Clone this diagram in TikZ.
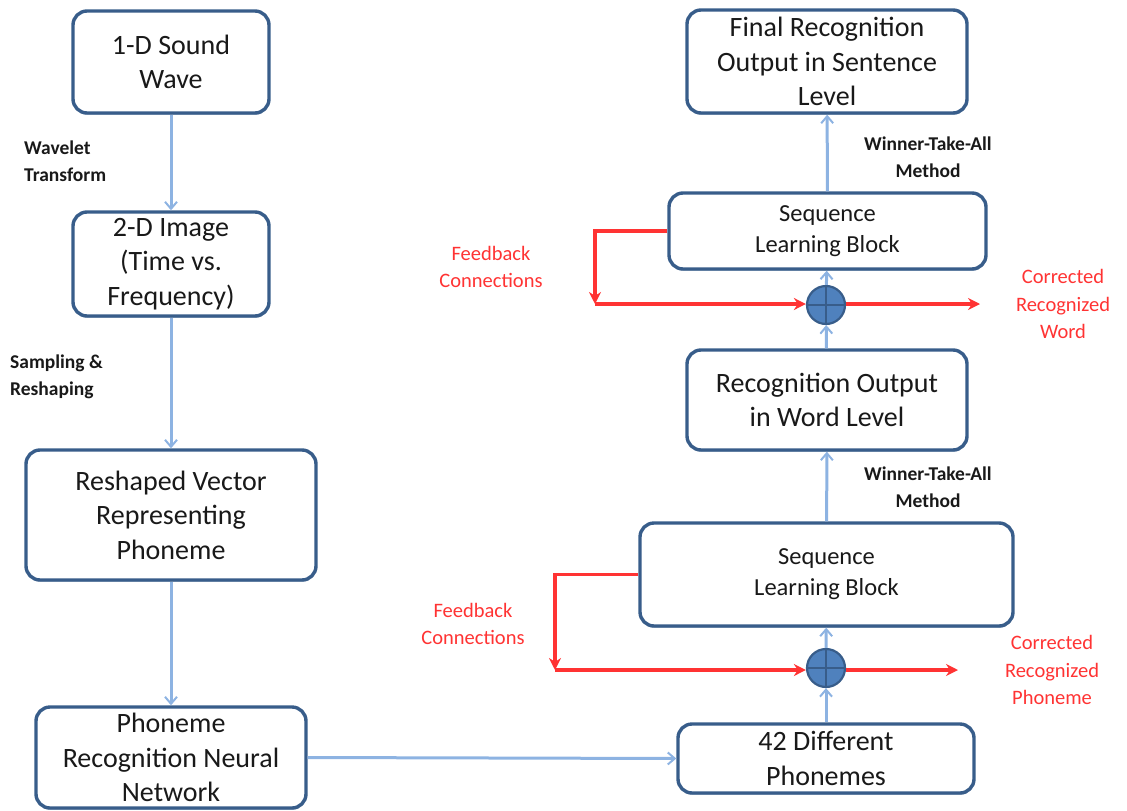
\documentclass[tikz,border=0pt]{standalone}
\usepackage{fontspec}
\setmainfont{Carlito}
\usetikzlibrary{arrows.meta,shadows}
\definecolor{boxline}{RGB}{56,93,138}
\definecolor{flow}{RGB}{141,179,226}
\definecolor{fb}{RGB}{255,51,51}
\definecolor{sumfill}{RGB}{79,129,189}
\definecolor{ink}{RGB}{25,25,25}
\begin{document}
\begin{tikzpicture}[x=1pt,y=-1pt,
  box/.style={draw=boxline, line width=3.4pt, rounded corners=14pt, fill=white,
    align=center, text=ink, inner sep=0pt, font=\fontsize{28}{34.5}\selectfont,
    drop shadow={shadow xshift=0.5pt, shadow yshift=-1.8pt, opacity=0.4, fill=boxline}},
  seqbox/.style={box, font=\fontsize{24.5}{31}\selectfont},
  flowline/.style={draw=flow, line width=3pt, -{Straight Barb[length=7pt,width=12pt,line width=2pt]}},
  fbline/.style={draw=fb, line width=3.4pt},
  fbarrow/.style={fbline, -{Stealth[length=12pt,width=12pt]}},
  note/.style={text=ink, font=\bfseries\fontsize{19.5}{27}\selectfont, inner sep=0pt},
  rednote/.style={text=fb, font=\fontsize{20.5}{27.5}\selectfont, inner sep=0pt, align=center},
  sum/.style={circle, draw=boxline, fill=sumfill, line width=2.2pt, minimum width=37pt, minimum height=38pt, inner sep=0pt}
]
\useasboundingbox (0,0) rectangle (1127,811);

% left column
\node[box, minimum width=196pt, minimum height=102pt] (wave) at (171,62) {1-D Sound\\Wave};
\node[box, minimum width=196pt, minimum height=104pt] (img) at (171,264) {2-D Image\\(Time vs.\\Frequency)};
\node[box, minimum width=290pt, minimum height=130pt] (vec) at (171,515) {Reshaped Vector\\Representing\\Phoneme};
\node[box, minimum width=270pt, minimum height=101pt] (nn) at (171,757.5) {Phoneme\\Recognition Neural\\Network};

% right column
\node[box, minimum width=296pt, minimum height=69pt] (pho) at (826,758.5) {42 Different\\Phonemes};
\node[seqbox, minimum width=373pt, minimum height=103pt] (seqA) at (826.5,574.5) {Sequence\\Learning Block};
\node[box, minimum width=280pt, minimum height=100pt] (word) at (827,400) {Recognition Output\\in Word Level};
\node[seqbox, minimum width=317pt, minimum height=76pt] (seqB) at (827.5,231) {Sequence\\Learning Block};
\node[box, minimum width=280pt, minimum height=103pt] (sent) at (827,61.5) {Final Recognition\\Output in Sentence\\Level};

% summing junctions
\node[sum] (sumA) at (826,668) {};
\node[sum] (sumB) at (826,305) {};
\foreach \s in {sumA,sumB}{
  \draw[boxline, line width=2.2pt] (\s.north) -- (\s.south) (\s.west) -- (\s.east);
}

% forward flow
\draw[flowline] (wave) -- (img);
\draw[flowline] (img) -- (vec);
\draw[flowline] (vec) -- (nn);
\draw[flowline] (nn.east) -- (pho.west);
\draw[flowline] (pho) -- (sumA);
\draw[flowline] (sumA) -- (seqA);
\draw[flowline] (seqA) -- (word);
\draw[flowline] (word) -- (sumB);
\draw[flowline] (sumB) -- (seqB);
\draw[flowline] (seqB) -- (sent);

% feedback loops and corrected outputs
\coordinate (kA) at (555,670);
\coordinate (oA) at (958,670);
\draw[fbarrow] (seqA.west) -| (kA);
\draw[fbarrow] (kA) -- (sumA.west |- kA);
\draw[fbarrow] (sumA.east |- kA) -- (oA);

\coordinate (kB) at (595,304);
\coordinate (oB) at (980,304);
\draw[fbarrow] (seqB.west) -| (kB);
\draw[fbarrow] (kB) -- (sumB.west |- kB);
\draw[fbarrow] (sumB.east |- kB) -- (oB);

% annotations
\node[note, anchor=west, align=left] (lwav) at (24,161) {Wavelet\\Transform};
\node[note, anchor=west, align=left] (lsam) at (10,377) {Sampling \&\\Reshaping};
\node[note, align=center] (lwtaA) at (928,487) {Winner-Take-All\\Method};
\node[note, align=center] (lwtaB) at (928,157) {Winner-Take-All\\Method};
\node[rednote] (lfbA) at (473,624) {Feedback\\Connections};
\node[rednote] (lfbB) at (491,267) {Feedback\\Connections};
\node[rednote] (lcorA) at (1052,670) {Corrected\\Recognized\\Phoneme};
\node[rednote] (lcorB) at (1063,304) {Corrected\\Recognized\\Word};
\end{tikzpicture}
\end{document}
